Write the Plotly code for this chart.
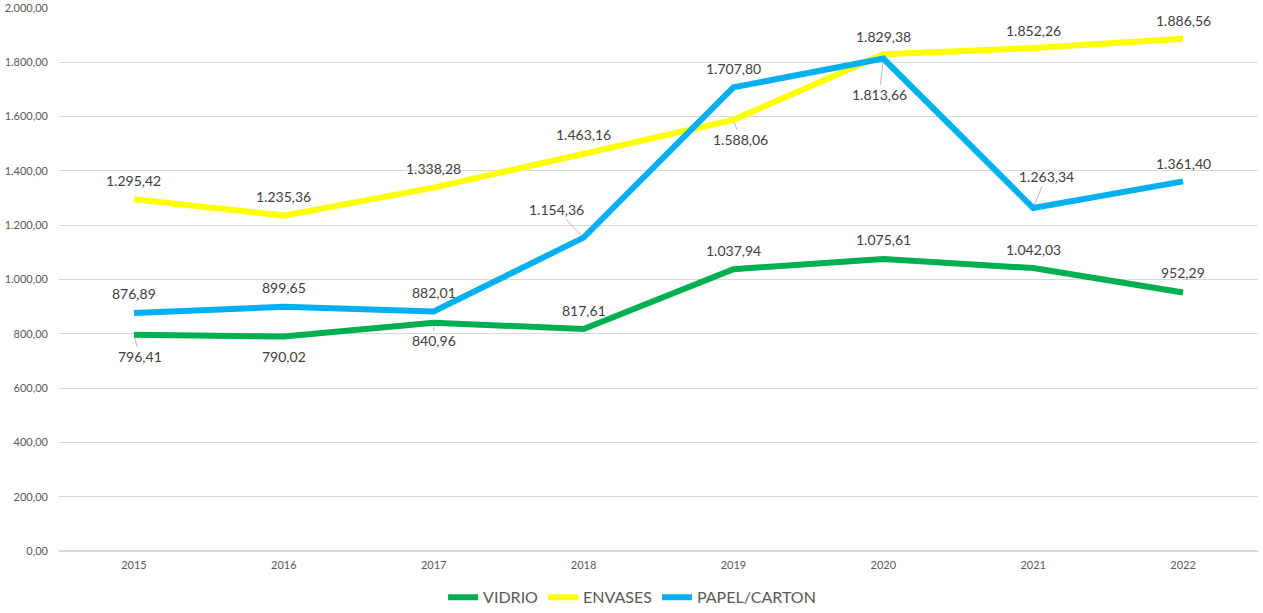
import plotly.graph_objects as go

years = ["2015", "2016", "2017", "2018", "2019", "2020", "2021", "2022"]
vidrio = [796.41, 790.02, 840.96, 817.61, 1037.94, 1075.61, 1042.03, 952.29]
envases = [1295.42, 1235.36, 1338.28, 1463.16, 1588.06, 1829.38, 1852.26, 1886.56]
papel = [876.89, 899.65, 882.01, 1154.36, 1707.80, 1813.66, 1263.34, 1361.40]

# label offsets (pixels) and whether a leader line is drawn
vidrio_off = [(6, 22, True), (0, 20, False), (0, 18, True), (0, -19, False),
              (0, -19, False), (0, -19, False), (0, -19, False), (0, -20, False)]
envases_off = [(0, -19, False), (0, -19, False), (0, -19, False), (0, -19, False),
               (7, 20, True), (0, -18, False), (0, -18, False), (0, -18, False)]
papel_off = [(0, -19, False), (0, -19, False), (0, -19, False), (-27, -28, True),
             (0, -19, False), (-4, 36, True), (13, -32, True), (0, -18, False)]


def fmt(v):
    s = f"{v:,.2f}"
    return s.replace(",", "X").replace(".", ",").replace("X", ".")


series = [
    ("VIDRIO", vidrio, "#00B050", vidrio_off),
    ("ENVASES", envases, "#FFFF00", envases_off),
    ("PAPEL/CARTON", papel, "#00B0F0", papel_off),
]

fig = go.Figure()
annotations = []
for name, vals, color, offs in series:
    fig.add_trace(go.Scatter(
        x=years, y=vals, name=name, mode="lines",
        line=dict(color=color, width=6),
        hoverinfo="x+y",
    ))
    for i, (v, (ax, ay, leader)) in enumerate(zip(vals, offs)):
        annotations.append(dict(
            x=i, y=v, xref="x", yref="y", text=fmt(v),
            showarrow=True, ax=ax, ay=ay, arrowhead=0,
            arrowwidth=0.8, standoff=3,
            arrowcolor="#A6A6A6" if leader else "rgba(0,0,0,0)",
            font=dict(family="Lato, Open Sans, sans-serif", size=14, color="#404040"),
        ))

fig.update_layout(
    width=1263, height=613,
    margin=dict(l=59, r=5, t=8, b=62, autoexpand=False),
    paper_bgcolor="white", plot_bgcolor="white",
    separators=",.",
    annotations=annotations,
    showlegend=True,
    legend=dict(orientation="h", x=0.478, xanchor="center", y=-0.054, yanchor="top",
                font=dict(family="Lato, Open Sans, sans-serif", size=16, color="#595959"),
                itemwidth=30),
    xaxis=dict(type="category", range=[-0.5, len(years) - 0.5], showgrid=False,
               zeroline=False, showline=False, ticks="", automargin=False,
               ticklabelstandoff=6,
               tickfont=dict(family="Lato, Open Sans, sans-serif", size=11, color="#595959")),
    yaxis=dict(range=[0, 2000], dtick=200, tickformat=",.2f", showgrid=True,
               gridcolor="#D9D9D9", gridwidth=1, zeroline=True, zerolinecolor="#D9D9D9",
               showline=False, ticks="", ticklabelstandoff=10, automargin=False,
               tickfont=dict(family="Lato, Open Sans, sans-serif", size=11, color="#595959")),
)

fig.write_html("out.html", config={"displayModeBar": False},
               post_script="document.body.style.margin='0';document.body.style.overflow='hidden';")
